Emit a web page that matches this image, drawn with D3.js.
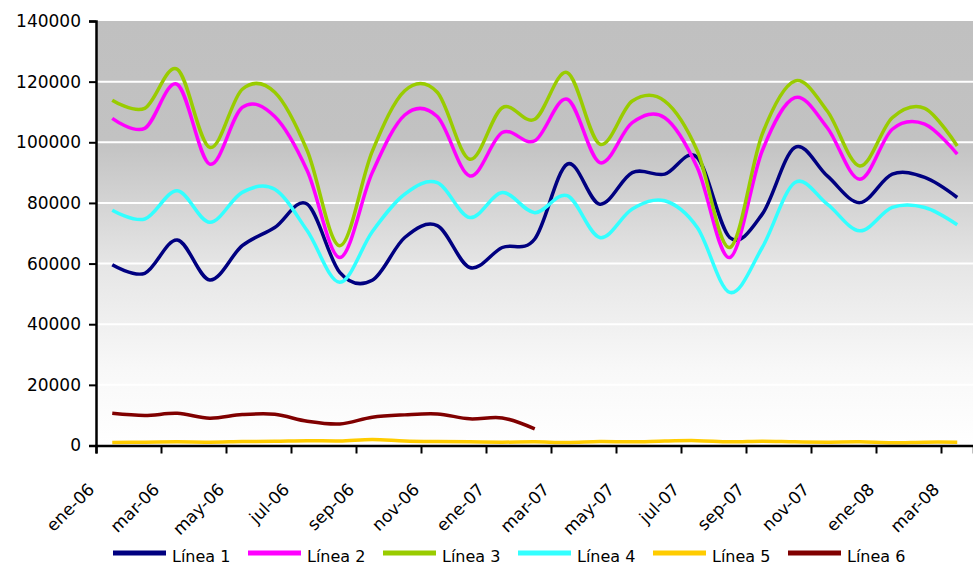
<!DOCTYPE html>
<html>
<head>
<meta charset="utf-8">
<script src="https://cdn.jsdelivr.net/npm/d3@7"></script>
<style>
  body { margin: 0; background: #fff; }
  svg { display: block; font-family: "DejaVu Sans", Verdana, sans-serif; }
</style>
</head>
<body>
<svg id="chart" width="973" height="569"></svg>
<script>
// months (one point per month, labels every two months)
var months = ["ene-06","feb-06","mar-06","abr-06","may-06","jun-06","jul-06","ago-06","sep-06","oct-06","nov-06","dic-06",
              "ene-07","feb-07","mar-07","abr-07","may-07","jun-07","jul-07","ago-07","sep-07","oct-07","nov-07","dic-07",
              "ene-08","feb-08","mar-08"];

var linea1 = [59600, 56800, 67800, 54600, 65900, 71900, 79600, 57100, 54500, 68600, 72500, 58700, 65300, 68100,
              92800, 79600, 90000, 89500, 95000, 68600, 76300, 98300, 88900, 80100, 89500, 88400, 81800];
var linea2 = [107900, 104600, 119100, 92800, 111500, 108500, 90600, 62000, 90000, 109000, 108500, 88900, 103200, 100500,
              114200, 93300, 106500, 108100, 91700, 62000, 97200, 114700, 104800, 87800, 104300, 106000, 96100];
var linea3 = [113900, 111200, 124100, 98300, 117500, 116500, 97200, 65900, 97000, 117000, 116500, 94400, 111400, 107600,
              123000, 99400, 113600, 113600, 97200, 65300, 102700, 120200, 110300, 92200, 108100, 111200, 98800];
var linea4 = [77600, 74700, 84000, 73600, 83500, 84500, 70800, 53800, 70500, 82900, 86700, 75200, 83400, 76800,
              82400, 68600, 78000, 80700, 71900, 50500, 65300, 86700, 79600, 70800, 78500, 78500, 72800];
var linea5 = [1000, 1100, 1200, 1100, 1300, 1400, 1600, 1500, 2000, 1500, 1300, 1200, 1100, 1200,
              1000, 1300, 1200, 1500, 1600, 1200, 1400, 1200, 1100, 1200, 900, 1100, 1100];
var linea6 = [10600, 9900, 10600, 9000, 10200, 10300, 8000, 7100, 9300, 10100, 10400, 8800, 9100, 5500];

var yTicks = [0, 20000, 40000, 60000, 80000, 100000, 120000, 140000];

var series = [
    { name: "Línea 1", values: linea1, color: "#000080" },
    { name: "Línea 2", values: linea2, color: "#ff00ff" },
    { name: "Línea 3", values: linea3, color: "#99cc00" },
    { name: "Línea 4", values: linea4, color: "#33ffff" },
    { name: "Línea 5", values: linea5, color: "#ffcc00" },
    { name: "Línea 6", values: linea6, color: "#800000" }
];

var svg = d3.select("#chart");
var plotLeft = 96, plotRight = 973.5, plotTop = 21, plotBottom = 445.5;

var x = d3.scaleLinear().domain([0, months.length]).range([plotLeft, plotRight]);
var y = d3.scaleLinear().domain([0, 140000]).range([plotBottom, plotTop]);

// background gradient
var grad = svg.append("defs").append("linearGradient")
    .attr("id", "bg").attr("x1", 0).attr("y1", 0).attr("x2", 0).attr("y2", 1);
grad.append("stop").attr("offset", "0%").attr("stop-color", "#c0c0c0");
grad.append("stop").attr("offset", "28%").attr("stop-color", "#c2c2c2");
grad.append("stop").attr("offset", "58%").attr("stop-color", "#e6e6e6");
grad.append("stop").attr("offset", "82%").attr("stop-color", "#f8f8f8");
grad.append("stop").attr("offset", "100%").attr("stop-color", "#ffffff");

svg.append("rect")
    .attr("x", plotLeft).attr("y", plotTop)
    .attr("width", plotRight - plotLeft).attr("height", plotBottom - plotTop)
    .attr("fill", "url(#bg)");

// white gridlines
svg.append("g")
    .selectAll("line")
    .data(yTicks.filter(function (d) { return d > 0 && d < 140000; }))
    .enter()
    .append("line")
    .attr("x1", plotLeft).attr("x2", plotRight)
    .attr("y1", function (d) { return y(d); })
    .attr("y2", function (d) { return y(d); })
    .attr("stroke", "#ffffff")
    .attr("stroke-width", 2);

// lines
var line = d3.line()
    .x(function (d, i) { return x(i + 0.5); })
    .y(function (d) { return y(d); })
    .curve(d3.curveCardinal.tension(0));

svg.append("g")
    .selectAll("path")
    .data(series)
    .enter()
    .append("path")
    .attr("d", function (d) { return line(d.values); })
    .attr("fill", "none")
    .attr("stroke", function (d) { return d.color; })
    .attr("stroke-width", 3.5)
    .attr("stroke-linejoin", "round");

// y axis
var yAxis = d3.axisLeft(y).tickValues(yTicks).tickSize(7).tickPadding(8)
    .tickFormat(function (d) { return d; });
var gy = svg.append("g").attr("transform", "translate(" + plotLeft + ",0)").call(yAxis);
gy.select(".domain").attr("stroke", "#000").attr("stroke-width", 2.5);
gy.selectAll(".tick line").attr("stroke", "#000").attr("stroke-width", 2);
gy.selectAll("text").attr("font-size", 17).attr("fill", "#000")
    .attr("font-family", "DejaVu Sans");

// x axis
var xAxis = d3.axisBottom(x)
    .tickValues(d3.range(0, months.length, 2))
    .tickSize(8)
    .tickFormat(function (i) { return months[i]; });
var gx = svg.append("g").attr("transform", "translate(0," + plotBottom + ")").call(xAxis);
gx.select(".domain").attr("stroke", "#000").attr("stroke-width", 2.5);
gx.selectAll(".tick line").attr("stroke", "#000").attr("stroke-width", 2);
gx.selectAll("text")
    .attr("font-size", 17).attr("fill", "#000").attr("font-family", "DejaVu Sans")
    .attr("text-anchor", "end")
    .attr("y", 0).attr("dy", 0)
    .attr("transform", "translate(-1,45) rotate(-45)");

// legend
var legend = svg.append("g")
    .selectAll("g")
    .data(series)
    .enter()
    .append("g")
    .attr("transform", function (d, i) { return "translate(" + (113 + i * 135) + ",553)"; });

legend.append("line")
    .attr("x1", 0).attr("x2", 53)
    .attr("y1", 0).attr("y2", 0)
    .attr("stroke", function (d) { return d.color; })
    .attr("stroke-width", 5);

legend.append("text")
    .attr("x", 59).attr("y", 9)
    .attr("font-size", 16)
    .attr("fill", "#000")
    .text(function (d) { return d.name; });
</script>
</body>
</html>
